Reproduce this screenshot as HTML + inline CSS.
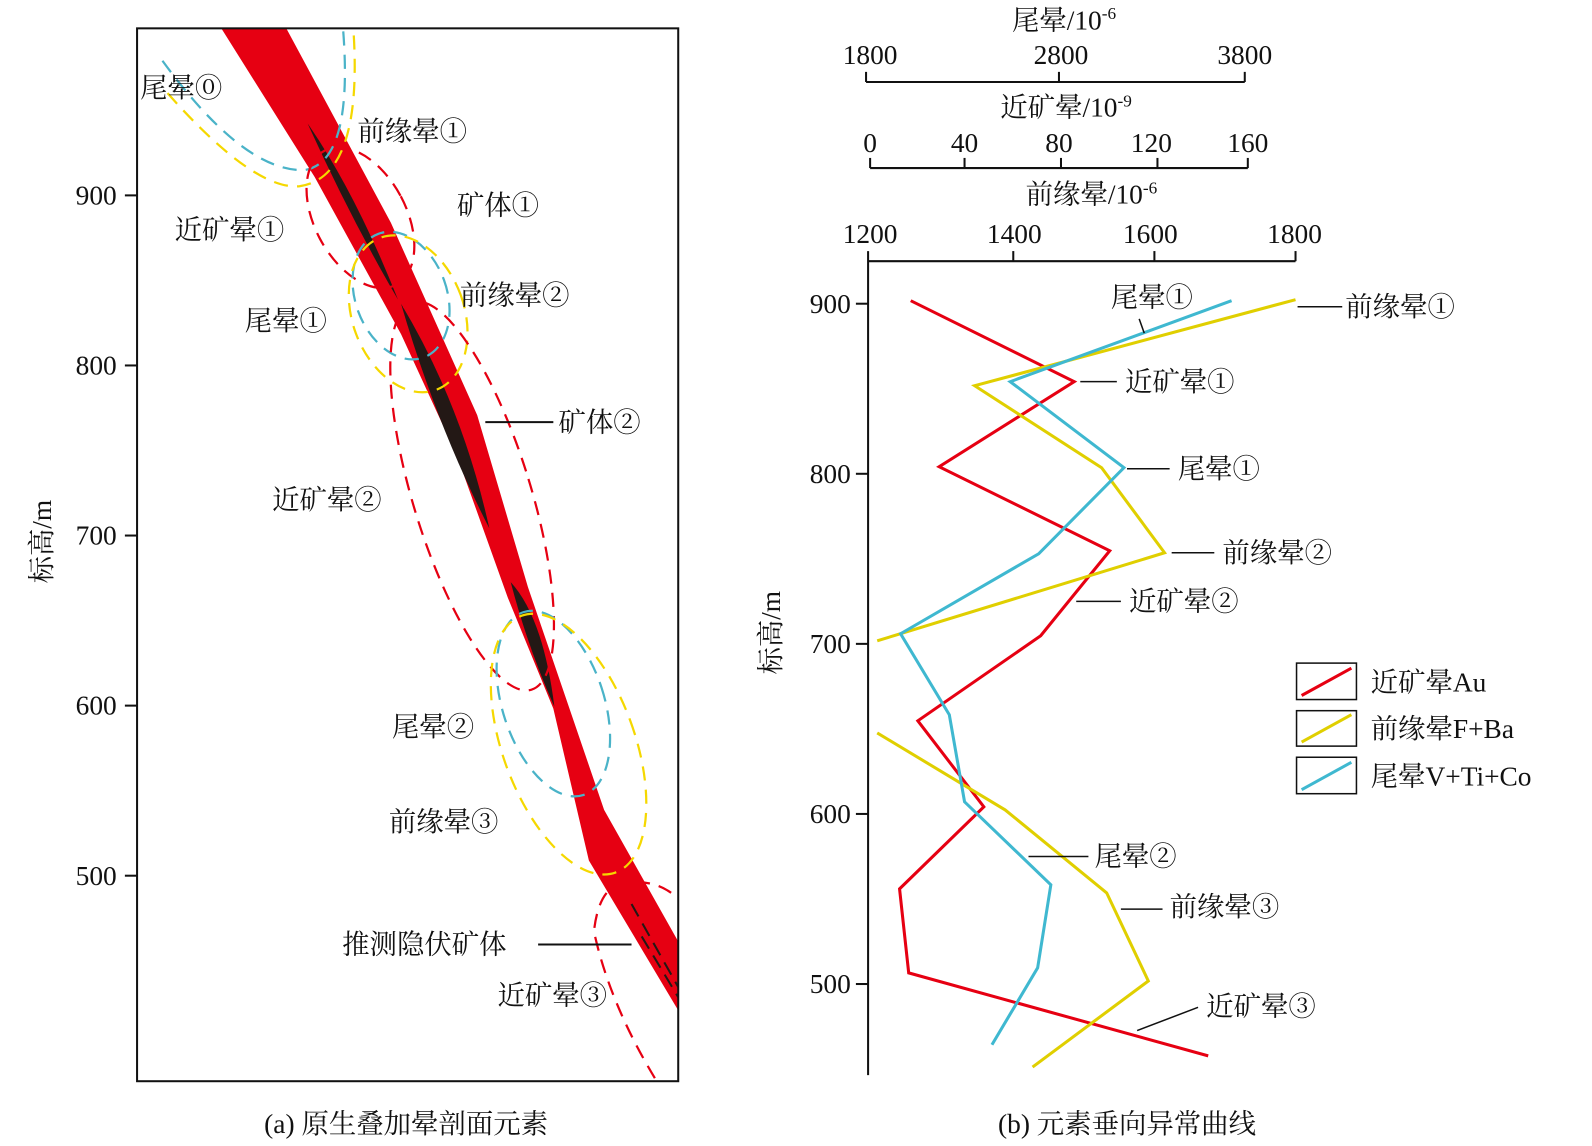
<!DOCTYPE html>
<html><head><meta charset="utf-8"><style>
html,body{margin:0;padding:0;background:#fff;}
svg{display:block;}
text{font-family:"Liberation Serif","Noto Serif CJK SC",serif;fill:#111;}
</style></head><body>
<svg width="1592" height="1146" viewBox="0 0 1568 1132" preserveAspectRatio="none" xmlns="http://www.w3.org/2000/svg">
<polygon points="218,28 282,28 385,220 470,410 520,580 595,800 668,930 668,998 580,850 545,700 500,590 450,450 395,330 310,175" fill="#e60012"/>
<path d="M303,122 Q350,190 392,296 Q345,215 303,122Z" fill="#231815"/>
<path d="M395,300 Q455,400 482,522 Q430,420 395,300Z" fill="#231815"/>
<path d="M503,575 Q535,610 546,698 Q520,640 503,575Z" fill="#231815"/>
<g stroke="#231815" stroke-width="2" stroke-dasharray="14,8" fill="none">
<path d="M622,893 L668,975"/><path d="M632,925 L668,985"/>
</g>
<g fill="none" stroke-width="2.2" stroke-dasharray="14,9">
<path d="M160,60 Q240,170 300,168 Q348,160 338,30" stroke="#4ab3c8"/>
<path d="M165,92 Q250,188 295,184 Q358,175 348,28" stroke="#f5d800"/>
<ellipse cx="355" cy="215" rx="45" ry="75" transform="rotate(-28 355 215)" stroke="#e60012"/>
<ellipse cx="395" cy="292" rx="45" ry="65" transform="rotate(-20 395 292)" stroke="#4ab3c8"/>
<ellipse cx="402" cy="310" rx="55" ry="80" transform="rotate(-20 402 310)" stroke="#f5d800"/>
<ellipse cx="465" cy="490" rx="58" ry="200" transform="rotate(-17 465 490)" stroke="#e60012"/>
<ellipse cx="545" cy="695" rx="50" ry="95" transform="rotate(-18 545 695)" stroke="#4ab3c8"/>
<ellipse cx="560" cy="735" rx="65" ry="135" transform="rotate(-20 560 735)" stroke="#f5d800"/>
<path d="M645,1065 Q600,990 585,920 Q590,875 615,872 Q645,868 665,885" stroke="#e60012"/>
</g>
<rect x="135" y="28" width="533" height="1040" fill="none" stroke="#111" stroke-width="2"/>
<g stroke="#111" stroke-width="2">
<line x1="123" y1="193" x2="135" y2="193"/><line x1="123" y1="361" x2="135" y2="361"/>
<line x1="123" y1="529" x2="135" y2="529"/><line x1="123" y1="697" x2="135" y2="697"/>
<line x1="123" y1="865" x2="135" y2="865"/>
<line x1="478" y1="417" x2="545" y2="417"/>
<line x1="530" y1="933" x2="622" y2="933"/>
</g>
<g font-size="27" text-anchor="end">
<text x="115" y="202">900</text><text x="115" y="370">800</text><text x="115" y="538">700</text>
<text x="115" y="706">600</text><text x="115" y="874">500</text>
</g>
<text font-size="27" transform="translate(50,535) rotate(-90)" text-anchor="middle">标高/m</text>
<g font-size="27">
<text x="138" y="96">尾晕⓪</text>
<text x="352" y="139">前缘晕①</text>
<text x="450" y="212">矿体①</text>
<text x="172" y="236">近矿晕①</text>
<text x="453" y="301">前缘晕②</text>
<text x="241" y="326">尾晕①</text>
<text x="550" y="426">矿体②</text>
<text x="268" y="503">近矿晕②</text>
<text x="386" y="727">尾晕②</text>
<text x="383" y="821">前缘晕③</text>
<text x="337" y="942">推测隐伏矿体</text>
<text x="490" y="992">近矿晕③</text>
<text x="400" y="1119" text-anchor="middle">(a)  原生叠加晕剖面元素</text>
</g>
<g stroke="#111" stroke-width="2" fill="none">
<line x1="853" y1="81" x2="1226" y2="81"/>
<line x1="853" y1="71" x2="853" y2="81"/><line x1="1043" y1="71" x2="1043" y2="81"/><line x1="1226" y1="71" x2="1226" y2="81"/>
<line x1="857" y1="166" x2="1229" y2="166"/>
<line x1="857" y1="156" x2="857" y2="166"/><line x1="950" y1="156" x2="950" y2="166"/><line x1="1045" y1="156" x2="1045" y2="166"/><line x1="1140" y1="156" x2="1140" y2="166"/><line x1="1229" y1="156" x2="1229" y2="166"/>
<line x1="855" y1="258" x2="1276" y2="258"/>
<line x1="855" y1="248" x2="855" y2="1062"/>
<line x1="998" y1="248" x2="998" y2="258"/><line x1="1137" y1="248" x2="1137" y2="258"/><line x1="1276" y1="248" x2="1276" y2="258"/>
<line x1="843" y1="300" x2="855" y2="300"/><line x1="843" y1="468" x2="855" y2="468"/><line x1="843" y1="636" x2="855" y2="636"/><line x1="843" y1="804" x2="855" y2="804"/><line x1="843" y1="972" x2="855" y2="972"/>
</g>
<g font-size="27" text-anchor="middle">
<text x="1048" y="29">尾晕/10<tspan font-size="17" dy="-10">-6</tspan></text>
<text x="857" y="63">1800</text><text x="1045" y="63">2800</text><text x="1226" y="63">3800</text>
<text x="1050" y="115">近矿晕/10<tspan font-size="17" dy="-10">-9</tspan></text>
<text x="857" y="150">0</text><text x="950" y="150">40</text><text x="1043" y="150">80</text><text x="1134" y="150">120</text><text x="1229" y="150">160</text>
<text x="1075" y="201">前缘晕/10<tspan font-size="17" dy="-10">-6</tspan></text>
<text x="857" y="240">1200</text><text x="999" y="240">1400</text><text x="1133" y="240">1600</text><text x="1275" y="240">1800</text>
</g>
<g font-size="27" text-anchor="end">
<text x="838" y="309">900</text><text x="838" y="477">800</text><text x="838" y="645">700</text><text x="838" y="813">600</text><text x="838" y="981">500</text>
</g>
<text font-size="27" transform="translate(768,625) rotate(-90)" text-anchor="middle">标高/m</text>
<g fill="none" stroke-width="3" stroke-linejoin="miter">
<polyline stroke="#e60012" points="897,297 1058,377 925,461 1093,544 1025,628 904,712 969,797 886,878 895,961 1190,1043"/>
<polyline stroke="#e0cf00" points="1276,296 960,381 1085,462 1147,546 864,633"/>
<polyline stroke="#e0cf00" points="864,724 990,800 1090,882 1131,969 1017,1054"/>
<polyline stroke="#3fb8d0" points="1213,297 995,377 1107,462 1023,547 887,626 935,706 950,792 1035,874 1022,956 977,1032"/>
</g>
<g stroke="#111" stroke-width="1.5">
<line x1="1122" y1="315" x2="1127" y2="329"/>
<line x1="1278" y1="303" x2="1322" y2="303"/>
<line x1="1064" y1="377" x2="1100" y2="377"/>
<line x1="1110" y1="463" x2="1152" y2="463"/>
<line x1="1154" y1="546" x2="1196" y2="546"/>
<line x1="1060" y1="594" x2="1104" y2="594"/>
<line x1="1013" y1="846" x2="1072" y2="846"/>
<line x1="1104" y1="898" x2="1145" y2="898"/>
<line x1="1120" y1="1018" x2="1180" y2="995"/>
</g>
<g font-size="27">
<text x="1094" y="303">尾晕①</text>
<text x="1325" y="312">前缘晕①</text>
<text x="1108" y="386">近矿晕①</text>
<text x="1160" y="472">尾晕①</text>
<text x="1204" y="555">前缘晕②</text>
<text x="1112" y="603">近矿晕②</text>
<text x="1078" y="855">尾晕②</text>
<text x="1152" y="905">前缘晕③</text>
<text x="1188" y="1003">近矿晕③</text>
<text x="1110" y="1119" text-anchor="middle">(b)  元素垂向异常曲线</text>
</g>
<g fill="none" stroke="#111" stroke-width="1.5">
<rect x="1277" y="655" width="59" height="36"/>
<rect x="1277" y="702" width="59" height="35"/>
<rect x="1277" y="748" width="59" height="36"/>
</g>
<g stroke-width="3">
<line x1="1282" y1="687" x2="1331" y2="660" stroke="#e60012"/>
<line x1="1282" y1="733" x2="1331" y2="706" stroke="#e0cf00"/>
<line x1="1282" y1="780" x2="1331" y2="753" stroke="#3fb8d0"/>
</g>
<g font-size="27">
<text x="1350" y="683">近矿晕Au</text>
<text x="1350" y="729">前缘晕F+Ba</text>
<text x="1350" y="776">尾晕V+Ti+Co</text>
</g>
</svg>
</body></html>
